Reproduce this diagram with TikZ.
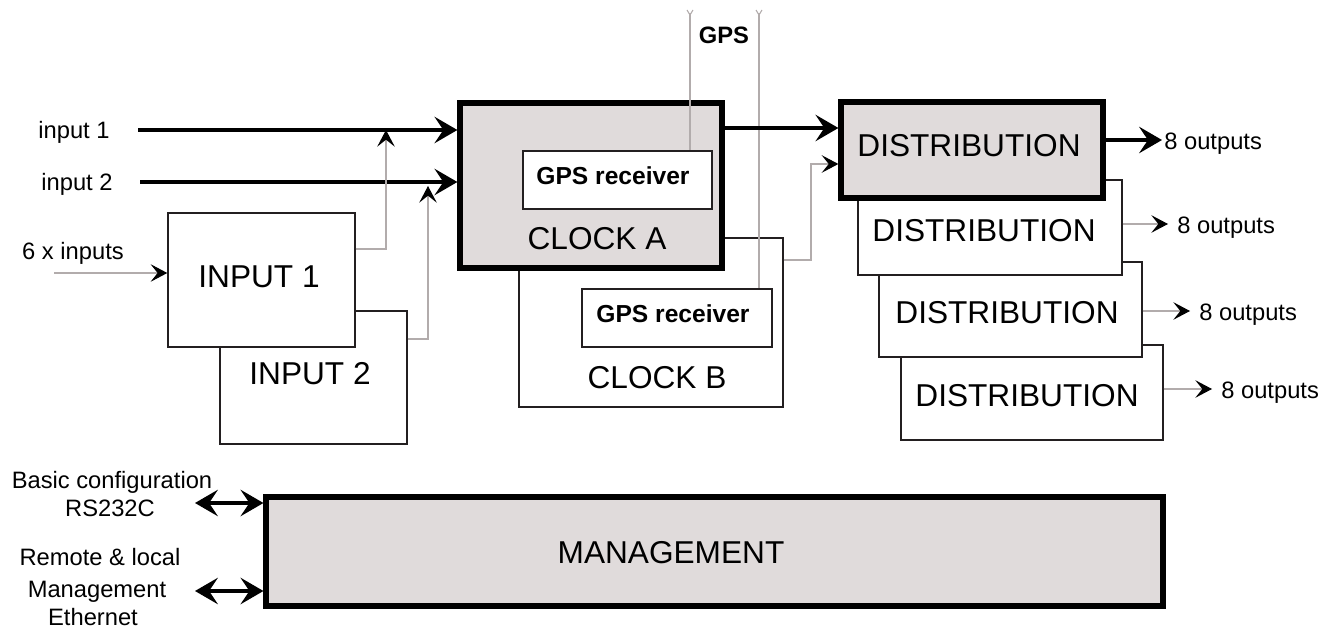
\documentclass[tikz,border=0pt]{standalone}
\usepackage{fontspec}
\setmainfont{Liberation Sans}
\usepackage{tikz}
\usetikzlibrary{arrows.meta,positioning,calc}
\definecolor{boxgray}{RGB}{224,219,219}
\definecolor{wiregray}{RGB}{178,172,172}
\definecolor{edgeblack}{RGB}{35,31,32}

\begin{document}
\begin{tikzpicture}[x=0.02cm,y=-0.02cm,
    blk/.style={draw=edgeblack, line width=0.8pt, fill=white, inner sep=0pt},
    mainblk/.style={draw=black, line width=3pt, fill=boxgray, inner sep=0pt},
    big/.style={font=\fontsize{18}{20}\selectfont, inner sep=0pt, text height=12.9pt, text depth=0pt},
    small/.style={font=\fontsize{13.5}{15}\selectfont, inner sep=0pt, text height=9.7pt, text depth=0pt},
    bus/.style={line width=2.3pt, -{Stealth[length=13pt 0,width=15pt 0,inset=5pt]}},
    dbus/.style={line width=2.3pt, {Stealth[length=13pt 0,width=15pt 0,inset=5pt]}-{Stealth[length=13pt 0,width=15pt 0,inset=5pt]}},
    wire/.style={wiregray, line width=0.6pt, -{Stealth[length=9.5pt 0,width=10pt 0,inset=4pt,black]}}]
\useasboundingbox (0,0) rectangle (1333,628);

    % Distribution stack
    \node[blk, minimum width=5.24cm, minimum height=1.9cm] (dist4) at (1032,392.5) {};
    \node[blk, minimum width=5.26cm, minimum height=1.9cm] (dist3) at (1010.5,309.5) {};
    \node[blk, minimum width=5.28cm, minimum height=1.9cm] (dist2) at (990,227.5) {};
    \node[mainblk, minimum width=5.24cm, minimum height=1.92cm] (dista) at (972,150) {};
    \node[big] (dist4txt) at (1027,395) {DISTRIBUTION};
    \node[big] (dist3txt) at (1007,312) {DISTRIBUTION};
    \node[big] (dist2txt) at (984,230) {DISTRIBUTION};
    \node[big] (distatxt) at (969,145.5) {DISTRIBUTION};

    % Input cards
    \node[blk, minimum width=3.74cm, minimum height=2.66cm] (in2) at (313.5,377.5) {};
    \node[blk, minimum width=3.74cm, minimum height=2.68cm] (in1) at (261.5,280) {};
    \node[big] (in1txt) at (259,276.5) {INPUT 1};
    \node[big] (in2txt) at (310,373.5) {INPUT 2};

    % Clocks
    \node[blk, minimum width=5.28cm, minimum height=3.38cm] (clkb) at (651,322.5) {};
    \node[blk, minimum width=3.8cm, minimum height=1.16cm] (gpsb) at (677,318) {};
    \node[mainblk, minimum width=5.24cm, minimum height=3.3cm] (clka) at (591,185.5) {};
    \node[blk, minimum width=3.78cm, minimum height=1.16cm] (gpsa) at (617.5,180) {};
    \node[small, font=\fontsize{14}{16}\selectfont\bfseries] (gpsatxt) at (613,176) {GPS receiver};
    \node[small, font=\fontsize{14}{16}\selectfont\bfseries] (gpsbtxt) at (673,314) {GPS receiver};
    \node[big] (clkatxt) at (597,238.5) {CLOCK A};
    \node[big] (clkbtxt) at (657,377) {CLOCK B};

    % Management
    \node[mainblk, minimum width=17.94cm, minimum height=2.18cm] (mgmt) at (714.5,551.5) {};
    \node[big] (mgmttxt) at (671,552) {MANAGEMENT};

    % Antennas
    \coordinate (anta) at (690,13);
    \coordinate (antb) at (759,13);
    \draw[wiregray, line width=0.6pt] (anta) -- (anta |- gpsa.north);
    \draw[wiregray, line width=0.6pt] (antb) -- (antb |- gpsb.north);
    \draw[wiregray, line width=0.6pt] ($(anta)+(-3,-3)$) -- ($(anta)+(0,2)$) -- ($(anta)+(3,-3)$);
    \draw[wiregray, line width=0.6pt] ($(antb)+(-3,-3)$) -- ($(antb)+(0,2)$) -- ($(antb)+(3,-3)$);
    \node[small, font=\fontsize{13.5}{15}\selectfont\bfseries] (gpstxt) at (724,35) {GPS};

    % Inputs
    \node[small] (inalbl) at (74,130) {input 1};
    \node[small] (inblbl) at (77,181.5) {input 2};
    \node[small] (sixlbl) at (73,250.5) {6 x inputs};
    \coordinate (ina) at (138,130);
    \coordinate (inb) at (140,182);
    \coordinate (six) at (54,273);
    \draw[bus] (ina) -- (ina -| clka.west);
    \draw[bus] (inb) -- (inb -| clka.west);
    \draw[wire] (six) -- (six -| in1.west);
    \coordinate (j1) at (386,249);
    \coordinate (j2) at (428,339);
    \draw[wire] (j1 -| in1.east) -- (j1) -- (j1 |- ina);
    \draw[wire] (j2 -| in2.east) -- (j2) -- ($(j2 |- inb)+(0,4)$);

    % Clocks to distribution
    \coordinate (ca) at (724,128);
    \draw[bus] (ca -| clka.east) -- (ca -| dista.west);
    \coordinate (cb) at (811,260);
    \draw[wire] (cb -| clkb.east) -- (cb) -- (cb |- 0,164) -- (0,164 -| dista.west);

    % Outputs
    \coordinate (oa) at (1162,140);
    \coordinate (o2) at (1168,224);
    \coordinate (o3) at (1190,311);
    \coordinate (o4) at (1212,389);
    \draw[bus] (oa -| dista.east) -- (oa);
    \draw[wire] (o2 -| dist2.east) -- (o2);
    \draw[wire] (o3 -| dist3.east) -- (o3);
    \draw[wire] (o4 -| dist4.east) -- (o4);
    \node[small, anchor=west] (oatxt) at (1164,140.5) {8 outputs};
    \node[small, anchor=west] (o2txt) at (1177,224.5) {8 outputs};
    \node[small, anchor=west] (o3txt) at (1199,311.5) {8 outputs};
    \node[small, anchor=west] (o4txt) at (1221,389.5) {8 outputs};

    % Management links
    \coordinate (ma) at (195,503);
    \coordinate (mb) at (195,591);
    \draw[dbus] (ma) -- (ma -| mgmt.west);
    \draw[dbus] (mb) -- (mb -| mgmt.west);
    \node[small] (cfg1) at (112,480) {Basic configuration};
    \node[small] (cfg2) at (110,507.5) {RS232C};
    \node[small] (rem1) at (100,556.5) {Remote \& local};
    \node[small] (rem2) at (97,589) {Management};
    \node[small] (rem3) at (93,617) {Ethernet};
\end{tikzpicture}
\end{document}
